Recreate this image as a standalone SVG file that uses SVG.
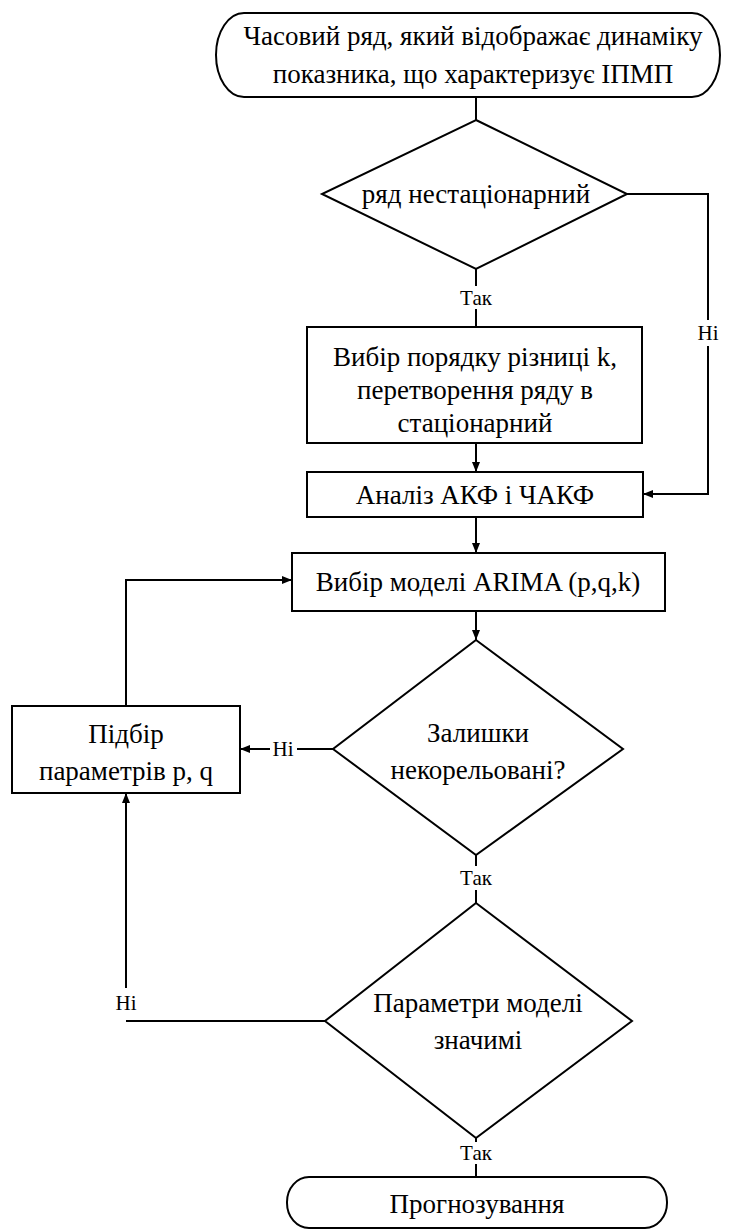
<svg xmlns="http://www.w3.org/2000/svg" width="729" height="1231" viewBox="0 0 729 1231">
<defs>
<marker id="arr" viewBox="0 0 10 10" refX="10" refY="5" markerWidth="10" markerHeight="10" markerUnits="userSpaceOnUse" orient="auto">
<path d="M0,1 L10,5 L0,9 Z" fill="#000"/>
</marker>
</defs>
<rect width="729" height="1231" fill="#fff"/>
<g id="connectors">
<g fill="none" stroke="#000" stroke-width="2">
<path d="M476,97 V120"/>
<path d="M476,269 V286"/>
<path d="M476,309 V327"/>
<path d="M627,194 H708 V320"/>
<path d="M708,346 V494 H643" marker-end="url(#arr)"/>
<path d="M476,443 V472" marker-end="url(#arr)"/>
<path d="M476,517 V553" marker-end="url(#arr)"/>
<path d="M476,611 V640" marker-end="url(#arr)"/>
<path d="M333,749 H297"/>
<path d="M270,749 H240" marker-end="url(#arr)"/>
<path d="M126,706 V580 H292" marker-end="url(#arr)"/>
<path d="M476,855 V866"/>
<path d="M476,890 V903"/>
<path d="M126,988 V793" marker-end="url(#arr)"/>
<path d="M126,1021 H325"/>
<path d="M476,1138 V1142"/>
<path d="M476,1164 V1177"/>
</g>
<text x="476" y="305" font-family="Liberation Serif" font-size="21" text-anchor="middle">Так</text>
<text x="708" y="340" font-family="Liberation Serif" font-size="21" text-anchor="middle">Ні</text>
<text x="283" y="756" font-family="Liberation Serif" font-size="21" text-anchor="middle">Ні</text>
<text x="476" y="885" font-family="Liberation Serif" font-size="21" text-anchor="middle">Так</text>
<text x="126" y="1010" font-family="Liberation Serif" font-size="21" text-anchor="middle">Ні</text>
<text x="476" y="1160" font-family="Liberation Serif" font-size="21" text-anchor="middle">Так</text>
</g>
<g id="start">
<rect x="216" y="13" width="504" height="84" rx="28" ry="42" fill="#fff" stroke="#000" stroke-width="2"/>
<text x="473" y="45" font-family="Liberation Serif" font-size="27" text-anchor="middle">Часовий ряд, який відображає динаміку</text>
<text x="473" y="83" font-family="Liberation Serif" font-size="27" text-anchor="middle">показника, що характеризує ІПМП</text>
</g>
<g id="d1">
<polygon points="476,120 627,194 476,269 322,194" fill="#fff" stroke="#000" stroke-width="2"/>
<text x="476" y="203" font-family="Liberation Serif" font-size="27" text-anchor="middle">ряд нестаціонарний</text>
</g>
<g id="b2">
<rect x="307" y="327" width="335" height="116" fill="#fff" stroke="#000" stroke-width="2"/>
<text x="475" y="366" font-family="Liberation Serif" font-size="27" text-anchor="middle">Вибір порядку різниці k,</text>
<text x="475" y="399" font-family="Liberation Serif" font-size="27" text-anchor="middle">перетворення ряду в</text>
<text x="475" y="432" font-family="Liberation Serif" font-size="27" text-anchor="middle">стаціонарний</text>
</g>
<g id="b3">
<rect x="307" y="472" width="336" height="45" fill="#fff" stroke="#000" stroke-width="2"/>
<text x="475" y="504" font-family="Liberation Serif" font-size="27" text-anchor="middle">Аналіз АКФ і ЧАКФ</text>
</g>
<g id="b4">
<rect x="292" y="553" width="373" height="58" fill="#fff" stroke="#000" stroke-width="2"/>
<text x="478" y="591" font-family="Liberation Serif" font-size="27" text-anchor="middle">Вибір моделі ARIMA (p,q,k)</text>
</g>
<g id="d2">
<polygon points="476,640 623,749 476,855 333,749" fill="#fff" stroke="#000" stroke-width="2"/>
<text x="478" y="742" font-family="Liberation Serif" font-size="27" text-anchor="middle">Залишки</text>
<text x="478" y="779" font-family="Liberation Serif" font-size="27" text-anchor="middle">некорельовані?</text>
</g>
<g id="b5">
<rect x="12" y="706" width="228" height="87" fill="#fff" stroke="#000" stroke-width="2"/>
<text x="126" y="743" font-family="Liberation Serif" font-size="27" text-anchor="middle">Підбір</text>
<text x="126" y="780" font-family="Liberation Serif" font-size="27" text-anchor="middle">параметрів p, q</text>
</g>
<g id="d3">
<polygon points="476,903 632,1021 476,1138 325,1021" fill="#fff" stroke="#000" stroke-width="2"/>
<text x="478" y="1012" font-family="Liberation Serif" font-size="27" text-anchor="middle">Параметри моделі</text>
<text x="478" y="1049" font-family="Liberation Serif" font-size="27" text-anchor="middle">значимі</text>
</g>
<g id="end">
<rect x="287" y="1177" width="380" height="51" rx="22" ry="25" fill="#fff" stroke="#000" stroke-width="2"/>
<text x="477" y="1213" font-family="Liberation Serif" font-size="27" text-anchor="middle">Прогнозування</text>
</g>
</svg>
